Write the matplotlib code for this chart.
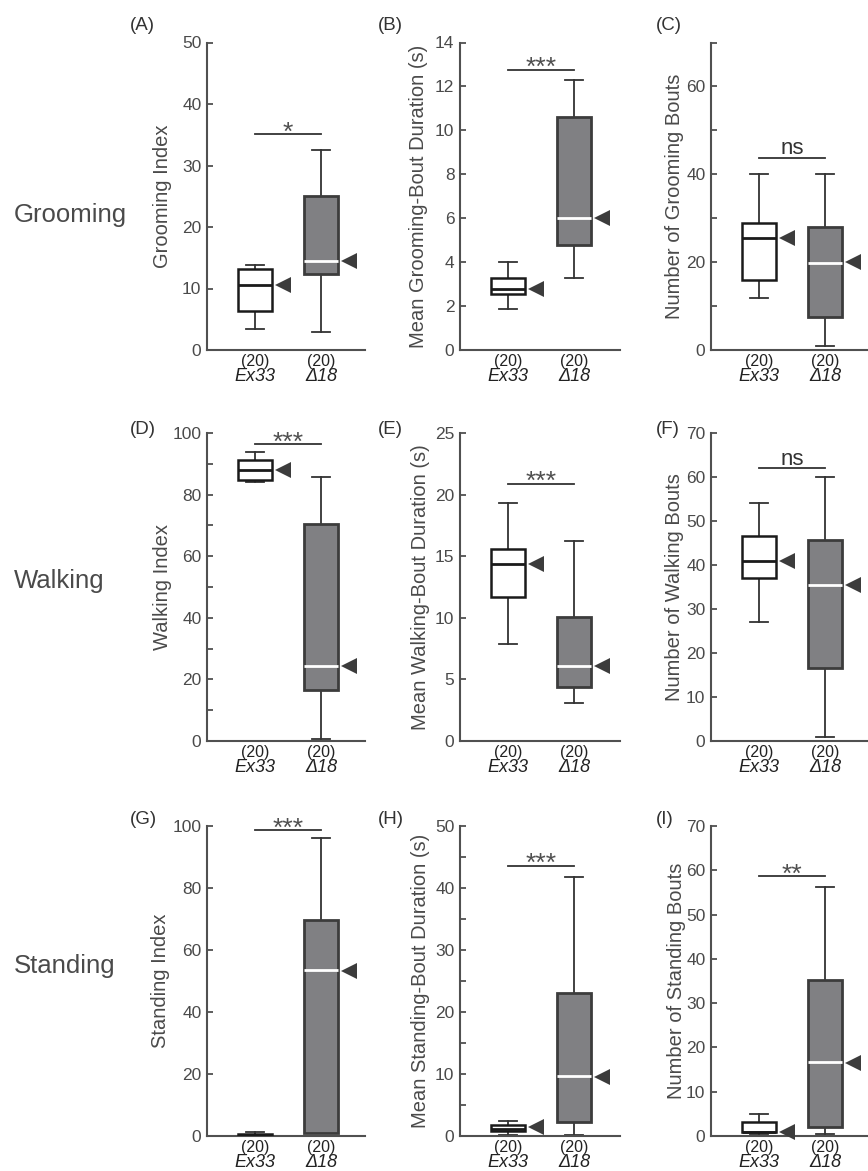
import numpy as np
import matplotlib
matplotlib.use('Agg')
import matplotlib.pyplot as plt
from matplotlib.ticker import MultipleLocator

plt.rcParams['font.family'] = ['Liberation Sans', 'DejaVu Sans']

# data, one entry per panel A..I
panels = ['(A)', '(B)', '(C)', '(D)', '(E)', '(F)', '(G)', '(H)', '(I)']
ylabels = ['Grooming Index', 'Mean Grooming-Bout Duration (s)', 'Number of Grooming Bouts',
           'Walking Index', 'Mean Walking-Bout Duration (s)', 'Number of Walking Bouts',
           'Standing Index', 'Mean Standing-Bout Duration (s)', 'Number of Standing Bouts']
rows = ['Grooming', 'Walking', 'Standing']
groups = ['Ex33', 'Δ18']
n_counts = ['(20)', '(20)']

ex33_low = [3.4, 1.88, 11.9, 84.1, 7.9, 27, 0.0, 0.1, 0.3]
ex33_q1 = [6.4, 2.56, 16, 84.9, 11.7, 37, 0.1, 0.75, 1.0]
ex33_med = [10.5, 2.8, 25.4, 88, 14.4, 41, 0.3, 1.2, 1.0]
ex33_q3 = [13.1, 3.27, 29, 91.2, 15.6, 46.5, 0.6, 1.8, 3.1]
ex33_high = [13.9, 4.0, 40, 93.8, 19.3, 54, 1.2, 2.5, 5.0]
ex33_mean = [10.5, 2.8, 25.4, 88, 14.4, 41, np.nan, 1.45, 1.0]

d18_low = [3.0, 3.29, 0.8, 0.6, 3.1, 1.0, 0.9, 0.1, 0.4]
d18_q1 = [12.3, 4.8, 7.4, 16.7, 4.4, 16.5, 0.9, 2.3, 2.1]
d18_med = [14.5, 6.0, 19.9, 24.2, 6.1, 35.5, 53.4, 9.65, 16.6]
d18_q3 = [25.0, 10.6, 27.9, 70.3, 10.1, 45.6, 69.7, 23.0, 35.2]
d18_high = [32.5, 12.27, 40, 85.7, 16.2, 60, 96, 41.7, 56.2]
d18_mean = [14.5, 6.0, 20.0, 24.2, 6.1, 35.5, 53.3, 9.55, 16.5]

sig_y = [35.1, 12.76, 43.8, 96.4, 20.9, 62, 98.6, 43.6, 58.6]
sig_text = ['*', '***', 'ns', '***', '***', 'ns', '***', '***', '**']

ymax = [50, 14, 70, 100, 25, 70, 100, 50, 70]
major = [10, 2, 20, 20, 5, 10, 20, 10, 10]
minor = [None, None, 10, 10, None, None, None, 5, None]

# layout in pixels
W, H = 868, 1171
col_left = [207, 460, 711]
col_right = [365, 620, 868]
row_top = [42.5, 433, 826]
row_bot = [350, 741, 1136]
lbl_x = [162, 419, 675, 162, 421, 674, 161, 420, 677]
tag_x = [130, 378, 656]
tag_y = [26, 429, 819]
row_base = [222, 588, 973]
px_per_unit = 66.0

dark = '#3c3c3c'
txt = '#4a4a4a'

fig = plt.figure(figsize=(W / 100, H / 100), dpi=100)

for i in range(9):
    r, c = divmod(i, 3)
    x0, x1 = col_left[c], col_right[c]
    y0, y1 = row_top[r], row_bot[r]
    ax = fig.add_axes([x0 / W, 1 - y1 / H, (x1 - x0) / W, (y1 - y0) / H])

    stats = [dict(whislo=ex33_low[i], q1=ex33_q1[i], med=ex33_med[i], q3=ex33_q3[i],
                  whishi=ex33_high[i], fliers=[]),
             dict(whislo=d18_low[i], q1=d18_q1[i], med=d18_med[i], q3=d18_q3[i],
                  whishi=d18_high[i], fliers=[])]
    bp = ax.bxp(stats, positions=[0, 1], widths=0.515, capwidths=0.27,
                patch_artist=True, showfliers=False)
    bp['boxes'][0].set(facecolor='white', edgecolor='#1a1a1a', linewidth=1.8, zorder=3)
    bp['boxes'][1].set(facecolor='#808083', edgecolor=dark, linewidth=2.0, zorder=3)
    bp['medians'][0].set(color='#1a1a1a', linewidth=2.0, zorder=4)
    bp['medians'][1].set(color='white', linewidth=2.0, zorder=4)
    for ln in bp['whiskers'] + bp['caps']:
        ln.set(color='#333333', linewidth=1.3, clip_on=False)

    for pos, m in zip([0, 1], [ex33_mean[i], d18_mean[i]]):
        if not np.isnan(m):
            ax.plot(pos + 0.43, m, marker='<', markersize=11, color=dark,
                    markeredgewidth=0, clip_on=False, zorder=5)

    # significance bar
    ax.plot([0, 1], [sig_y[i], sig_y[i]], color='#333333', lw=1.3, clip_on=False)
    if sig_text[i] == 'ns':
        ax.annotate('ns', (0.5, sig_y[i]), xytext=(0, 2.5), textcoords='offset points',
                    ha='center', va='baseline', fontsize=16, color='#333333')
    else:
        ax.annotate(sig_text[i], (0.5, sig_y[i]), xytext=(0, -4), textcoords='offset points',
                    ha='center', va='baseline', fontsize=19, color='#505050')

    xl = -48 / px_per_unit
    ax.set_xlim(xl, xl + (x1 - x0) / px_per_unit)
    ax.set_ylim(0, ymax[i])
    ax.set_xticks([])
    ax.yaxis.set_major_locator(MultipleLocator(major[i]))
    if minor[i]:
        ax.yaxis.set_minor_locator(MultipleLocator(minor[i]))
    ax.tick_params(axis='y', which='both', direction='in', length=4, width=1.3,
                   color='#505050', labelsize=12.5, labelcolor=txt, pad=4)
    for s in ['top', 'right']:
        ax.spines[s].set_visible(False)
    for s in ['left', 'bottom']:
        ax.spines[s].set_color('#505050')
        ax.spines[s].set_linewidth(1.5)

    for pos, n, g in zip([0, 1], n_counts, groups):
        ax.annotate(n, (pos, 0), xycoords=('data', 'axes fraction'), xytext=(0, -8),
                    textcoords='offset points', ha='center', va='center',
                    fontsize=11.5, color='#222222', annotation_clip=False)
        ax.annotate(g, (pos, 0), xycoords=('data', 'axes fraction'), xytext=(0, -19),
                    textcoords='offset points', ha='center', va='center',
                    fontsize=13, style='italic', color='#222222', annotation_clip=False)

    fig.text(lbl_x[i] / W, 1 - (y0 + y1) / 2 / H, ylabels[i], rotation=90,
             ha='center', va='center', fontsize=14.5, color=txt)
    fig.text(tag_x[c] / W, 1 - tag_y[r] / H, panels[i], ha='left', va='center',
             fontsize=13.5, color='#333333')

for r, name in enumerate(rows):
    fig.text(14 / W, 1 - row_base[r] / H, name, ha='left', va='baseline',
             fontsize=18.5, color=txt)

fig.savefig('out.png', dpi=100)
